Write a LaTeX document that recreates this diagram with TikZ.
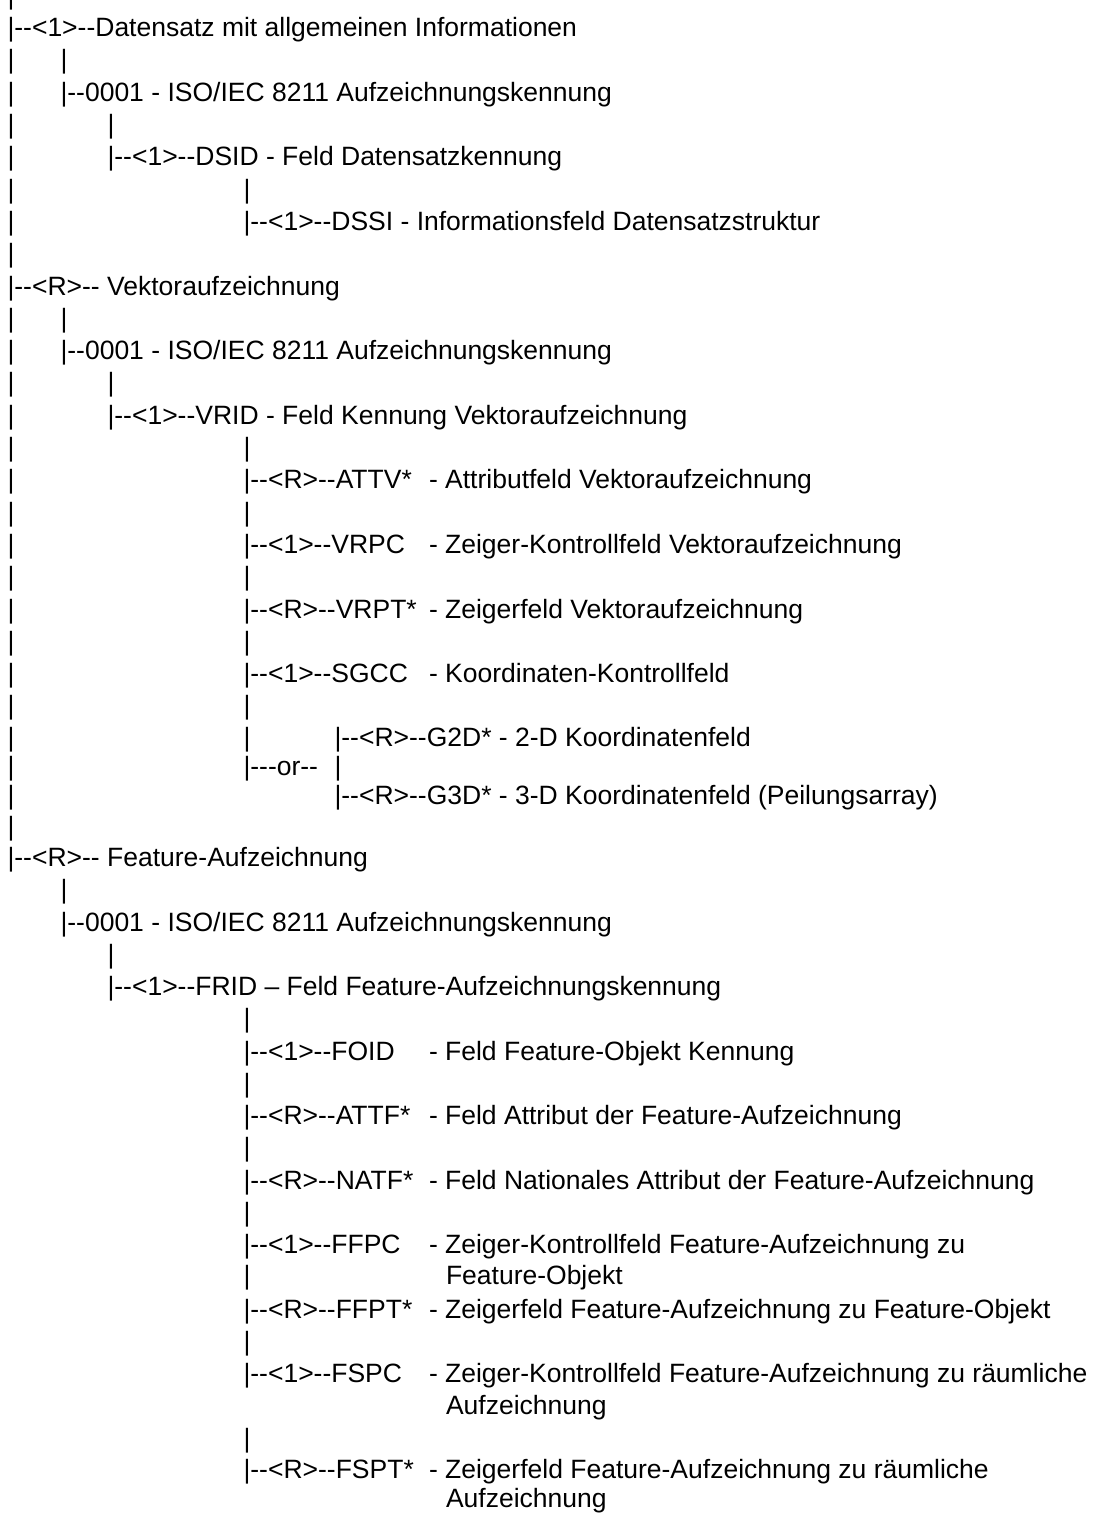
\documentclass[tikz,border=0pt]{standalone}
\usepackage{fontspec}
\setmainfont{Liberation Sans}[Ligatures=TeXOff]
\begin{document}
\begin{tikzpicture}[x=1pt,y=-1pt,
  ascii/.style={anchor=base west,inner sep=0pt,outer sep=0pt,text=black,font=\fontsize{26.5}{30}\selectfont}]
\fill[white] (0,0) rectangle (1094,1513);
\useasboundingbox (0,0) rectangle (1094,1513);
% column origins
\def\cA{7.5}\def\cB{60.5}\def\cC{107.5}\def\cD{243.5}\def\cE{334.5}\def\cDesc{429}\def\cWrap{446}
% plain pipe glyphs
\foreach \b [count=\i] in {4.3,68.9,101.2,133.5,165.8,198.1,230.4,262.7,327.3,359.6,391.9,424.2,456.5,488.8,521.1,553.4,585.7,618,650.3,682.6,714.9,746.6,775.6,804.6,835.6}
  \node[ascii] (pA\i) at (\cA,\b) {|};
\foreach \b [count=\i] in {68.9,327.3,898.85}
  \node[ascii] (pB\i) at (\cB,\b) {|};
\foreach \b [count=\i] in {133.5,391.9,963.35}
  \node[ascii] (pC\i) at (\cC,\b) {|};
\foreach \b [count=\i] in {198.1,456.5,521.1,585.7,650.3,714.9,746.6,1027.85,1092.35,1156.85,1221.35,1284.6,1350.35,1447.6}
  \node[ascii] (pD\i) at (\cD,\b) {|};
\node[ascii] (pE1) at (\cE,775.6) {|};
% section 1
\node[ascii] (ds) at (\cA,36.6) {|--<1>--Datensatz mit allgemeinen Informationen};
\node[ascii] (ds0001) at (\cB,101.2) {|--0001 - ISO/IEC 8211 Aufzeichnungskennung};
\node[ascii] (dsid) at (\cC,165.8) {|--<1>--DSID - Feld Datensatzkennung};
\node[ascii] (dssi) at (\cD,230.4) {|--<1>--DSSI - Informationsfeld Datensatzstruktur};
% section 2
\node[ascii] (va) at (\cA,295) {|--<R>-- Vektoraufzeichnung};
\node[ascii] (va0001) at (\cB,359.6) {|--0001 - ISO/IEC 8211 Aufzeichnungskennung};
\node[ascii] (vrid) at (\cC,424.2) {|--<1>--VRID - Feld Kennung Vektoraufzeichnung};
\node[ascii] (attv) at (\cD,488.8) {|--<R>--ATTV*};
\node[ascii] (attvd) at (\cDesc,488.8) {- Attributfeld Vektoraufzeichnung};
\node[ascii] (vrpc) at (\cD,553.4) {|--<1>--VRPC};
\node[ascii] (vrpcd) at (\cDesc,553.4) {- Zeiger-Kontrollfeld Vektoraufzeichnung};
\node[ascii] (vrpt) at (\cD,618) {|--<R>--VRPT*};
\node[ascii] (vrptd) at (\cDesc,618) {- Zeigerfeld Vektoraufzeichnung};
\node[ascii] (sgcc) at (\cD,682.6) {|--<1>--SGCC};
\node[ascii] (sgccd) at (\cDesc,682.6) {- Koordinaten-Kontrollfeld};
\node[ascii] (g2d) at (\cE,746.6) {|--<R>--G2D* - 2-D Koordinatenfeld};
\node[ascii] (or) at (\cD,775.6) {|---or--};
\node[ascii] (g3d) at (\cE,804.6) {|--<R>--G3D* - 3-D Koordinatenfeld (Peilungsarray)};
% section 3
\node[ascii] (fa) at (\cA,866.6) {|--<R>-- Feature-Aufzeichnung};
\node[ascii] (fa0001) at (\cB,931.1) {|--0001 - ISO/IEC 8211 Aufzeichnungskennung};
\node[ascii] (frid) at (\cC,995.6) {|--<1>--FRID – Feld Feature-Aufzeichnungskennung};
\node[ascii] (foid) at (\cD,1060.1) {|--<1>--FOID};
\node[ascii] (foidd) at (\cDesc,1060.1) {- Feld Feature-Objekt Kennung};
\node[ascii] (attf) at (\cD,1124.6) {|--<R>--ATTF*};
\node[ascii] (attfd) at (\cDesc,1124.6) {- Feld Attribut der Feature-Aufzeichnung};
\node[ascii] (natf) at (\cD,1189.1) {|--<R>--NATF*};
\node[ascii] (natfd) at (\cDesc,1189.1) {- Feld Nationales Attribut der Feature-Aufzeichnung};
\node[ascii] (ffpc) at (\cD,1253.6) {|--<1>--FFPC};
\node[ascii] (ffpcd) at (\cDesc,1253.6) {- Zeiger-Kontrollfeld Feature-Aufzeichnung zu};
\node[ascii] (ffpcw) at (\cWrap,1284.6) {Feature-Objekt};
\node[ascii] (ffpt) at (\cD,1318.1) {|--<R>--FFPT*};
\node[ascii] (ffptd) at (\cDesc,1318.1) {- Zeigerfeld Feature-Aufzeichnung zu Feature-Objekt};
\node[ascii] (fspc) at (\cD,1382.6) {|--<1>--FSPC};
\node[ascii] (fspcd) at (\cDesc,1382.6) {- Zeiger-Kontrollfeld Feature-Aufzeichnung zu räumliche};
\node[ascii] (fspcw) at (\cWrap,1414.6) {Aufzeichnung};
\node[ascii] (fspt) at (\cD,1478.6) {|--<R>--FSPT*};
\node[ascii] (fsptd) at (\cDesc,1478.6) {- Zeigerfeld Feature-Aufzeichnung zu räumliche};
\node[ascii] (fsptw) at (\cWrap,1507) {Aufzeichnung};
\end{tikzpicture}
\end{document}
